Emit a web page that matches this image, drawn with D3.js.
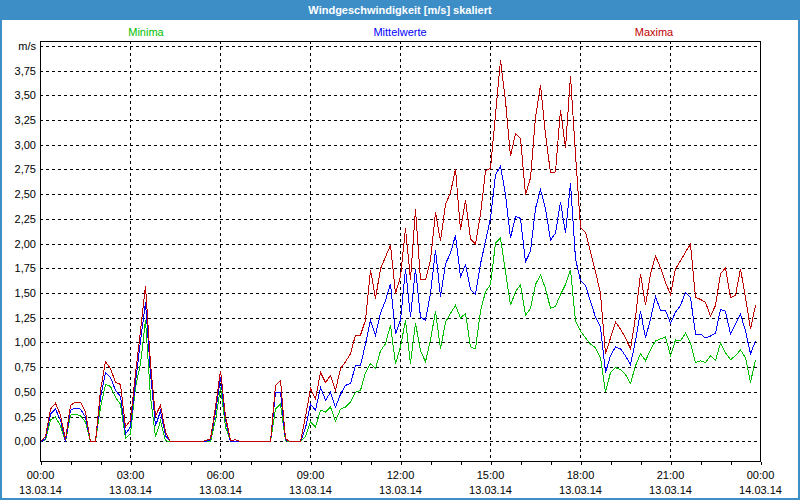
<!DOCTYPE html>
<html>
<head>
<meta charset="utf-8">
<script src="https://cdn.jsdelivr.net/npm/d3@7/dist/d3.min.js"></script>
<style>
  html, body { margin: 0; padding: 0; background: #ffffff; }
  svg { display: block; }
  text { font-family: "Liberation Sans", Arial, sans-serif; font-size: 11px; }
</style>
</head>
<body>
<svg id="chart" width="800" height="500"></svg>
<script>
// ---------- DATA (10-minute values, 13.03.14 00:00 .. 23:50) ----------
const chartTitle = "Windgeschwindigkeit [m/s] skaliert";
const seriesNames = ["Minima", "Mittelwerte", "Maxima"];
const yTickValues = [0, 0.25, 0.5, 0.75, 1, 1.25, 1.5, 1.75, 2, 2.25, 2.5, 2.75, 3, 3.25, 3.5, 3.75, 4];
const yUnitLabel = "m/s";
const xTickHours = [0, 3, 6, 9, 12, 15, 18, 21, 24];
const startDate = "2014-03-13T00:00:00";
const endDate = "2014-03-14T00:00:00";
const stepMinutes = 10;

const minima = [
  0, 0.02, 0.22, 0.25, 0.16, 0, 0.27, 0.28, 0.26, 0.20,
  0, 0, 0.35, 0.58, 0.56, 0.45, 0.38, 0.03, 0.08, 0.55,
  0.79, 1.23, 0.45, 0.05, 0.21, 0.01, 0, 0, 0, 0,
  0, 0, 0, 0, 0, 0.22, 0.55, 0.15, 0, 0,
  0, 0, 0, 0, 0, 0, 0, 0.33, 0.38, 0.01,
  0, 0, 0, 0.05, 0.20, 0.15, 0.32, 0.30, 0.35, 0.21,
  0.33, 0.35, 0.40, 0.50, 0.52, 0.70, 0.79, 0.74, 0.92, 0.99,
  1.18, 0.79, 0.96, 1.23, 0.79, 1.20, 0.92, 0.81, 1.03, 1.32,
  0.94, 1.21, 1.30, 1.38, 1.25, 1.30, 0.96, 0.94, 1.32, 1.52,
  1.59, 2.01, 2.06, 1.72, 1.38, 1.52, 1.59, 1.28, 1.35, 1.59,
  1.69, 1.55, 1.35, 1.37, 1.49, 1.59, 1.74, 1.22, 1.12, 1.05,
  0.99, 0.95, 0.85, 0.50, 0.70, 0.75, 0.73, 0.68, 0.59, 0.77,
  0.89, 0.82, 0.93, 1.02, 1.04, 1.06, 0.87, 1.03, 1.02, 1.10,
  1.00, 0.80, 0.82, 0.80, 0.87, 0.82, 1.00, 0.90, 0.83, 0.87,
  0.93, 0.85, 0.60, 0.83
];
const mittelwerte = [
  0, 0.03, 0.28, 0.33, 0.22, 0, 0.32, 0.34, 0.33, 0.25,
  0, 0, 0.45, 0.70, 0.65, 0.52, 0.46, 0.08, 0.15, 0.60,
  1.02, 1.41, 0.69, 0.16, 0.31, 0.06, 0, 0, 0, 0,
  0, 0, 0, 0, 0.02, 0.30, 0.65, 0.22, 0, 0,
  0, 0, 0, 0, 0, 0, 0, 0.50, 0.50, 0.02,
  0, 0, 0, 0.14, 0.38, 0.32, 0.55, 0.42, 0.50, 0.35,
  0.48, 0.57, 0.59, 0.77, 0.77, 0.99, 1.23, 1.08, 1.30, 1.43,
  1.60, 1.09, 1.23, 1.75, 1.26, 1.75, 1.26, 1.23, 1.50, 1.94,
  1.47, 1.80, 1.91, 2.09, 1.67, 1.79, 1.54, 1.49, 1.80, 2.03,
  2.26, 2.70, 2.79, 2.50, 2.06, 2.28, 2.26, 1.82, 1.93, 2.36,
  2.55, 2.36, 2.04, 2.11, 2.43, 2.11, 2.62, 1.85, 1.63, 1.58,
  1.42, 1.26, 1.16, 0.70, 0.87, 0.96, 0.94, 0.87, 0.78, 1.02,
  1.32, 1.05, 1.24, 1.47, 1.33, 1.33, 1.20, 1.31, 1.38, 1.51,
  1.46, 1.09, 1.09, 1.05, 1.07, 1.10, 1.34, 1.32, 1.09, 1.19,
  1.29, 1.12, 0.89, 1.02
];
const maxima = [
  0, 0.05, 0.33, 0.39, 0.27, 0.02, 0.37, 0.40, 0.40, 0.30,
  0, 0, 0.52, 0.81, 0.74, 0.60, 0.58, 0.15, 0.22, 0.69,
  1.12, 1.58, 0.79, 0.26, 0.37, 0.10, 0, 0, 0, 0,
  0, 0, 0, 0.01, 0.03, 0.35, 0.72, 0.26, 0.01, 0.02,
  0, 0, 0, 0, 0, 0, 0, 0.57, 0.62, 0.03,
  0, 0, 0, 0.25, 0.54, 0.43, 0.70, 0.60, 0.67, 0.52,
  0.74, 0.81, 0.89, 1.08, 1.08, 1.23, 1.74, 1.45, 1.75, 1.87,
  1.99, 1.50, 1.67, 2.16, 1.64, 2.35, 1.64, 1.64, 1.84, 2.32,
  2.03, 2.40, 2.52, 2.76, 2.14, 2.45, 2.05, 2.00, 2.30, 2.74,
  2.77, 3.31, 3.86, 3.45, 2.89, 3.12, 3.07, 2.50, 2.67, 3.28,
  3.61, 3.11, 2.72, 2.73, 3.36, 2.97, 3.70, 2.91, 2.17, 2.12,
  1.92, 1.72, 1.50, 0.89, 1.05, 1.21, 1.14, 1.05, 0.94, 1.26,
  1.70, 1.38, 1.70, 1.88, 1.76, 1.61, 1.49, 1.75, 1.83, 1.92,
  2.00, 1.46, 1.44, 1.41, 1.27, 1.38, 1.70, 1.76, 1.46, 1.48,
  1.75, 1.46, 1.14, 1.38
];

// ---------- LAYOUT ----------
const W = 800, H = 500;
const plot = { left: 40, right: 760, top: 41, bottom: 461 };
const colors = { Minima: "#00c000", Mittelwerte: "#0000ff", Maxima: "#c00000" };
const frameBlue = "#3d8ec7";

const svg = d3.select("#chart");

// window frame + title bar
svg.append("rect").attr("x", 0).attr("y", 0).attr("width", W).attr("height", H).attr("fill", frameBlue);
svg.append("rect").attr("x", 2).attr("y", 20).attr("width", W - 4).attr("height", H - 22).attr("fill", "#ffffff");
svg.append("text").attr("x", W / 2).attr("y", 14).attr("text-anchor", "middle")
  .attr("fill", "#ffffff").attr("font-weight", "bold").text(chartTitle);

// scales
const parse = d3.isoParse;
const t0 = parse(startDate), t1 = parse(endDate);
const x = d3.scaleTime().domain([t0, t1]).range([plot.left, plot.right]);
const y = d3.scaleLinear().domain([-0.2, 4.05]).range([plot.bottom, plot.top]);
const px = v => Math.round(v) + 0.5;

const times = minima.map((_, i) => new Date(t0.getTime() + i * stepMinutes * 60000));

// horizontal grid
const grid = svg.append("g").attr("stroke", "#000").attr("stroke-dasharray", "3,3")
  .attr("shape-rendering", "crispEdges");
grid.selectAll("line.h").data(yTickValues).join("line").attr("class", "h")
  .attr("x1", plot.left).attr("x2", plot.right)
  .attr("y1", d => px(y(d))).attr("y2", d => px(y(d)));
// vertical grid
const vHours = xTickHours.filter(h => h > 0 && h < 24);
grid.selectAll("line.v").data(vHours).join("line").attr("class", "v")
  .attr("x1", h => px(x(d3.timeHour.offset(t0, h)))).attr("x2", h => px(x(d3.timeHour.offset(t0, h))))
  .attr("y1", plot.top).attr("y2", plot.bottom);

// y labels
svg.append("g").selectAll("text").data(yTickValues).join("text")
  .attr("x", 36).attr("y", d => y(d) + 4).attr("text-anchor", "end").attr("fill", "#000")
  .text(d => d === 4 ? yUnitLabel : d3.format(".2f")(d).replace(".", ","));

// x axis (hourly minor ticks, labels every 3 h)
const xAxis = d3.axisBottom(x).ticks(d3.timeHour.every(1)).tickSize(3).tickFormat("");
const gx = svg.append("g").attr("transform", `translate(0.5,${plot.bottom + 0.5})`).call(xAxis)
  .attr("shape-rendering", "crispEdges");
gx.select(".domain").remove();
gx.selectAll(".tick line").attr("stroke", "#000");

const fmtTime = d3.timeFormat("%H:%M"), fmtDate = d3.timeFormat("%d.%m.%y");
const labels = svg.append("g").selectAll("g").data(xTickHours).join("g")
  .attr("transform", h => `translate(${x(d3.timeHour.offset(t0, h)) + 0.5},0)`);
labels.append("text").attr("y", 478.5).attr("text-anchor", "middle")
  .text(h => fmtTime(d3.timeHour.offset(t0, h)));
labels.append("text").attr("y", 494).attr("text-anchor", "middle")
  .text(h => fmtDate(d3.timeHour.offset(t0, h)));

// series lines
const seriesData = [
  { name: "Minima", values: minima },
  { name: "Mittelwerte", values: mittelwerte },
  { name: "Maxima", values: maxima }
];
const line = d3.line().x((d, i) => x(times[i]) + 0.5).y(d => y(d) + 0.5);
svg.append("g").selectAll("path").data(seriesData).join("path")
  .attr("fill", "none").attr("stroke", d => colors[d.name]).attr("stroke-width", 1)
  .attr("shape-rendering", "crispEdges")
  .attr("d", d => line(d.values));

// frame
svg.append("rect").attr("x", plot.left + 0.5).attr("y", plot.top + 0.5)
  .attr("width", plot.right - plot.left).attr("height", plot.bottom - plot.top)
  .attr("fill", "none").attr("stroke", "#000").attr("shape-rendering", "crispEdges");

// legend texts
const legendX = { Minima: 146, Mittelwerte: 400, Maxima: 654 };
svg.append("g").selectAll("text").data(seriesNames).join("text")
  .attr("x", d => legendX[d]).attr("y", 35.5).attr("text-anchor", "middle")
  .attr("fill", d => colors[d]).text(d => d);
</script>
</body>
</html>
